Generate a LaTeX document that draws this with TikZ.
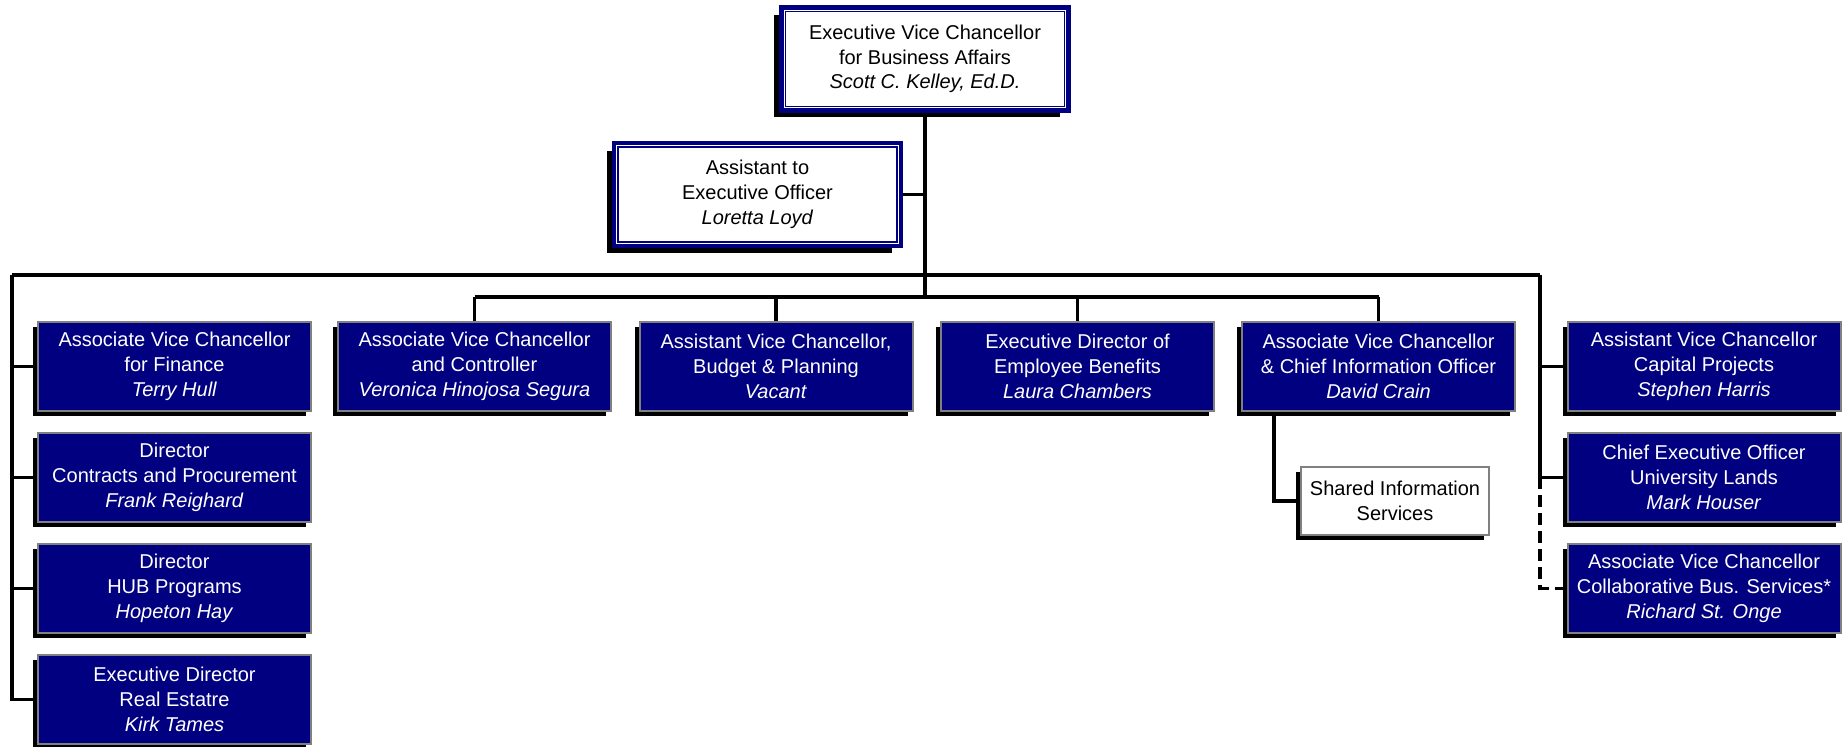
\documentclass[tikz,border=0pt]{standalone}
\usepackage{fontspec}
\setmainfont{Liberation Sans}
\usetikzlibrary{shadows}
\definecolor{navyblue}{HTML}{000080}
\definecolor{boxgray}{HTML}{808080}
\begin{document}
\begin{tikzpicture}[x=0.5pt,y=-0.5pt,
  every node/.style={font=\fontsize{10pt}{12.35pt}\selectfont},
  bluebox/.style={fill=navyblue,draw=boxgray,line width=1pt,text=white,
    minimum width=136.5pt,minimum height=44.5pt,inner sep=0pt,align=center,
    drop shadow={shadow xshift=-2.5pt,shadow yshift=-2.5pt,fill=black,opacity=1}},
  whitebox/.style={fill=white,draw=boxgray,line width=1pt,text=black,
    minimum width=94pt,minimum height=34pt,inner sep=0pt,align=center,
    drop shadow={shadow xshift=-2.5pt,shadow yshift=-2.5pt,fill=black,opacity=1}},
  dblbox/.style={fill=white,draw=navyblue,line width=2.25pt,text=black,
    minimum width=143.6pt,minimum height=51.6pt,inner sep=0pt,align=center},
  conn/.style={draw=black,line width=1.75pt},
  dconn/.style={conn,dash pattern=on 6pt off 3pt},
  innerline/.style={draw=navyblue,line width=0.85pt}]
\useasboundingbox (0,0) rectangle (1843,747);
% shadows of the double-framed boxes
\fill[black] (774,15) rectangle (1060,117);
\fill[black] (607,151) rectangle (892,253);
% junction coordinates
\coordinate (L0) at (12,275);
\coordinate (R0) at (1540,275);
\coordinate (J2) at (925,297);
% double boxes
\node[dblbox] (evc) at (925,59) {Executive Vice Chancellor\\for Business Affairs\\\textit{Scott C. Kelley, Ed.D.}};
\draw[innerline] ([shift={(3.2pt,3.2pt)}]evc.south west) rectangle ([shift={(-3.2pt,-3.2pt)}]evc.north east);
\node[dblbox] (asst) at (757.5,194.5) {Assistant to\\Executive Officer\\\textit{Loretta Loyd}};
\draw[innerline] ([shift={(3.2pt,3.2pt)}]asst.south west) rectangle ([shift={(-3.2pt,-3.2pt)}]asst.north east);
% left column
\node[bluebox] (fin) at (174.5,366.5) {Associate Vice Chancellor\\for Finance\\\textit{Terry Hull}};
\node[bluebox] (con) at (174.5,477.5) {Director\\Contracts and Procurement\\\textit{Frank Reighard}};
\node[bluebox] (hub) at (174.5,588.5) {Director\\HUB Programs\\\textit{Hopeton Hay}};
\node[bluebox] (re) at (174.5,699.5) {Executive Director\\Real Estatre\\\textit{Kirk Tames}};
% middle row
\node[bluebox] (ctl) at (474.5,366.5) {Associate Vice Chancellor\\and Controller\\\textit{Veronica Hinojosa Segura}};
\node[bluebox] (bud) at (776,366.5) {Assistant Vice Chancellor,\\Budget \& Planning\\\textit{Vacant}};
\node[bluebox] (ben) at (1077.5,366.5) {Executive Director of\\Employee Benefits\\\textit{Laura Chambers}};
\node[bluebox] (cio) at (1378.5,366.5) {Associate Vice Chancellor\\\& Chief Information Officer\\\textit{David Crain}};
\node[whitebox] (sis) at (1395,501) {Shared Information\\Services};
% right column
\node[bluebox] (cap) at (1704,366.5) {Assistant Vice Chancellor\\Capital Projects\\\textit{Stephen Harris}};
\node[bluebox] (ceo) at (1704,477.5) {Chief Executive Officer\\University Lands\\\textit{Mark Houser}};
\node[bluebox] (cbs) at (1704,588.5) {Associate Vice Chancellor\\Collaborative Bus. Services*\\\textit{Richard St. Onge}};
% connectors
\draw[conn] (evc.south) -- (J2);
\draw[conn] (asst.east) -- (asst.east -| evc.south);
\draw[conn] (L0) -- (R0);
\draw[conn] (L0) |- (re.west);
\draw[conn] (fin.west) -- (fin.west -| L0);
\draw[conn] (con.west) -- (con.west -| L0);
\draw[conn] (hub.west) -- (hub.west -| L0);
\draw[conn] (ctl.north |- J2) -- (cio.north |- J2);
\draw[conn] (ctl.north |- J2) -- (ctl.north);
\draw[conn] (bud.north |- J2) -- (bud.north);
\draw[conn] (ben.north |- J2) -- (ben.north);
\draw[conn] (cio.north |- J2) -- (cio.north);
\draw[conn] ([xshift=16.5pt]cio.south west) |- (sis.west);
\draw[conn] (R0) |- (ceo.west);
\draw[conn] (cap.west) -- (cap.west -| R0);
\draw[dconn] (ceo.west -| R0) |- (cbs.west);
\end{tikzpicture}
\end{document}
